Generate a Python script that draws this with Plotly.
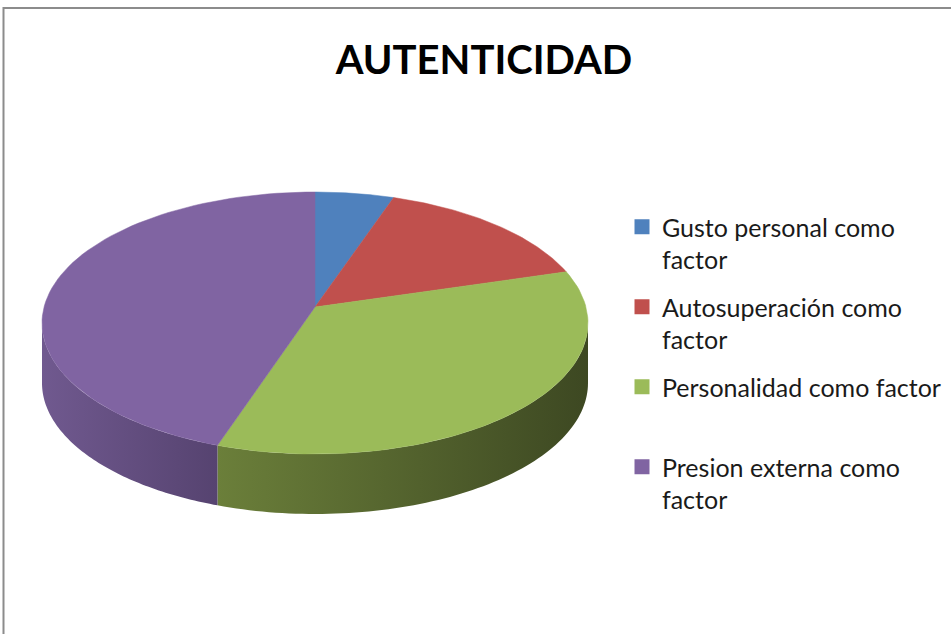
import numpy as np
import plotly.graph_objects as go

categorias = ['Gusto personal como<br>factor', 'Autosuperación como<br>factor',
              'Personalidad como factor<br> ', 'Presion externa como<br>factor']
valores = [2, 6, 16, 19]
colores = ['#4f81bd', '#c0504d', '#9bbb59', '#8064a2']
lados = [('#3f6797', '#2f4d72'), ('#9a403d', '#73302e'),
         ('#6b7f3a', '#3d4822'), ('#70598f', '#564370')]

# geometria del pastel "3D" (pixeles)
cx, cy, rx, ry, prof = 315, 323, 273, 131, 60
apex_y = 307


def borde(a0, a1, n=80):
    t = np.linspace(a0, a1, n)
    return cx + rx * np.sin(t), cy - ry * np.cos(t)


total = sum(valores)
cortes = np.concatenate([[0], np.cumsum(valores) / total]) * 2 * np.pi

fig = go.Figure()

# paredes laterales (solo la mitad frontal es visible)
for i in range(len(valores)):
    a0 = max(cortes[i], np.pi / 2)
    a1 = min(cortes[i + 1], 3 * np.pi / 2)
    if a1 <= a0:
        continue
    xs, ys = borde(a0, a1)
    px = np.concatenate([xs, xs[::-1]])
    py = np.concatenate([ys, ys[::-1] + prof])
    fig.add_trace(go.Scatter(x=px, y=py, fill='toself', mode='none',
                             fillgradient=dict(type='horizontal',
                                               colorscale=[[0, lados[i][0]], [1, lados[i][1]]]),
                             hoverinfo='skip', showlegend=False))

# caras superiores
for i in range(len(valores)):
    xs, ys = borde(cortes[i], cortes[i + 1])
    px = np.concatenate([[cx], xs, [cx]])
    py = np.concatenate([[apex_y], ys, [apex_y]])
    fig.add_trace(go.Scatter(x=px, y=py, fill='toself', mode='lines',
                             line=dict(color=colores[i], width=0.5),
                             fillcolor=colores[i], hoverinfo='skip', showlegend=False))

# leyenda
for i, nombre in enumerate(categorias):
    fig.add_trace(go.Scatter(x=[None], y=[None], mode='markers', name=nombre,
                             marker=dict(symbol='square', size=15, color=colores[i]),
                             legendgroup=str(i)))

fig.add_shape(type='rect', x0=3.5, y0=8, x1=990, y1=700,
              line=dict(color='#8c8c8c', width=2), layer='above')

fig.update_layout(
    width=951, height=634,
    margin=dict(l=0, r=0, t=0, b=0),
    paper_bgcolor='white', plot_bgcolor='white',
    xaxis=dict(range=[0, 951], visible=False, fixedrange=True),
    yaxis=dict(range=[634, 0], visible=False, fixedrange=True),
    title=dict(text='<b>AUTENTICIDAD</b>', x=0.509, xanchor='center', y=1 - 60 / 634,
               yanchor='middle', font=dict(family='Lato', size=40, color='black')),
    legend=dict(x=622 / 951, y=1 - 204 / 634, xanchor='left', yanchor='top',
                font=dict(family='Lato', size=25, color='#1a1a1a'),
                valign='top', tracegroupgap=12, itemwidth=30,
                bgcolor='rgba(0,0,0,0)'),
    showlegend=True,
)

fig.write_html('out.html', config={'displayModeBar': False},
               post_script="document.body.style.margin='0';")
